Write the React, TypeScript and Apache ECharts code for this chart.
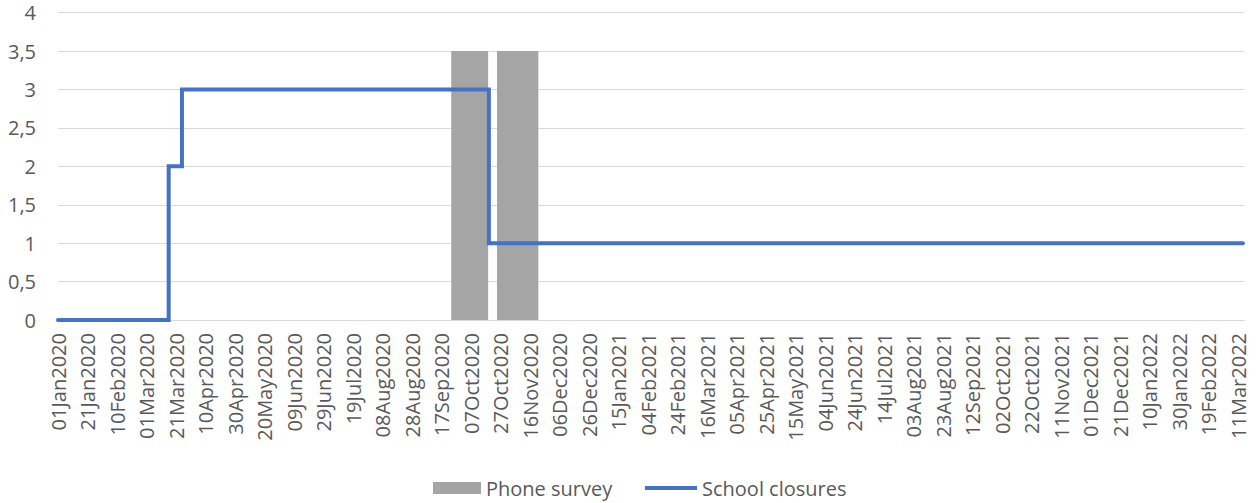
import React, { useEffect, useRef } from "react";
import * as echarts from "echarts";

// Phone survey field periods (first and last day of each round)
const surveyStarts = ["2020-09-24", "2020-10-25"];
const surveyEnds = ["2020-10-18", "2020-11-21"];
const surveyLevel = 3.5;

// School closure level, as the date each level starts
const closureDates = ["2020-01-01", "2020-03-16", "2020-03-25", "2020-10-19", "2022-03-14"];
const closureLevels = [0, 2, 3, 1, 1];

// Axis settings
const axisStart = "2020-01-01";
const axisEnd = "2022-03-15";
const labelStepDays = 20;
const yTicks = [0, 0.5, 1, 1.5, 2, 2.5, 3, 3.5, 4];

const MONTHS = ["Jan", "Feb", "Mar", "Apr", "May", "Jun", "Jul", "Aug", "Sep", "Oct", "Nov", "Dec"];
const DAY_MS = 86400000;

function toUTC(s: string): number {
  const [y, m, d] = s.split("-").map(Number);
  return Date.UTC(y, m - 1, d);
}
const origin = toUTC(axisStart);
const dayIndex = (s: string) => Math.round((toUTC(s) - origin) / DAY_MS);

function dayLabel(day: number): string {
  const dt = new Date(origin + Math.round(day) * DAY_MS);
  const dd = String(dt.getUTCDate()).padStart(2, "0");
  return `${dd}${MONTHS[dt.getUTCMonth()]}${dt.getUTCFullYear()}`;
}

const TEXT = "#595959";
const FONT = "Open Sans";
const BLUE = "#4472C4";
const GREY = "#A5A5A5";

export default function App() {
  const ref = useRef<HTMLDivElement>(null);

  useEffect(() => {
    if (!ref.current) return;
    const chart = echarts.init(ref.current, null, { renderer: "svg" });

    const surveyData = surveyStarts.map((s, i) => [dayIndex(s) - 0.5, dayIndex(surveyEnds[i]) + 0.5, surveyLevel]);
    const closureData = closureDates.map((d, i) => [dayIndex(d), closureLevels[i]]);

    const legendText = { fontFamily: FONT, fontSize: 20, color: TEXT, lineHeight: 20 };

    chart.setOption({
      animation: false,
      textStyle: { fontFamily: FONT, color: TEXT },
      grid: { left: 58, right: 13.6, top: 12.7, bottom: 183 },
      legend: [
        {
          data: [{ name: "Phone survey", icon: "rect" }],
          left: 433,
          top: 478,
          padding: 0,
          itemWidth: 48,
          itemHeight: 12,
          textStyle: legendText,
        },
        {
          data: [{ name: "School closures", icon: "rect", itemStyle: { color: BLUE } }],
          left: 645,
          top: 478,
          padding: 0,
          itemWidth: 52,
          itemHeight: 4,
          textStyle: legendText,
        },
      ],
      xAxis: {
        type: "value",
        min: 0,
        max: dayIndex(axisEnd),
        interval: labelStepDays,
        splitLine: { show: false },
        axisTick: { show: false },
        axisLine: { show: true, lineStyle: { color: "#d9d9d9", width: 1 } },
        axisLabel: {
          rotate: 90,
          margin: 13,
          showMaxLabel: false,
          fontFamily: FONT,
          fontSize: 20,
          color: TEXT,
          formatter: (v: number) => dayLabel(v),
        },
      },
      yAxis: {
        type: "value",
        min: yTicks[0],
        max: yTicks[yTicks.length - 1],
        interval: yTicks[1] - yTicks[0],
        axisLine: { show: false },
        axisTick: { show: false },
        splitLine: { lineStyle: { color: "#d9d9d9", width: 1 } },
        axisLabel: {
          margin: 22,
          fontFamily: FONT,
          fontSize: 20,
          color: TEXT,
          formatter: (v: number) => String(v).replace(".", ","),
        },
      },
      series: [
        {
          name: "Phone survey",
          type: "custom",
          itemStyle: { color: GREY },
          encode: { x: [0, 1], y: 2 },
          data: surveyData,
          renderItem: (_params: any, api: any) => {
            const topLeft = api.coord([api.value(0), api.value(2)]);
            const bottomRight = api.coord([api.value(1), 0]);
            return {
              type: "rect",
              shape: {
                x: topLeft[0],
                y: topLeft[1],
                width: bottomRight[0] - topLeft[0],
                height: bottomRight[1] - topLeft[1],
              },
              style: { fill: GREY },
            };
          },
          z: 1,
        },
        {
          name: "School closures",
          type: "line",
          step: "end",
          symbol: "none",
          data: closureData,
          lineStyle: { color: BLUE, width: 4, cap: "round", join: "miter" },
          itemStyle: { color: BLUE },
          z: 2,
        },
      ],
    });

    return () => chart.dispose();
  }, []);

  return (
    <div
      ref={ref}
      style={{ position: "absolute", left: 0, top: 0, width: 1258, height: 503 }}
    />
  );
}
